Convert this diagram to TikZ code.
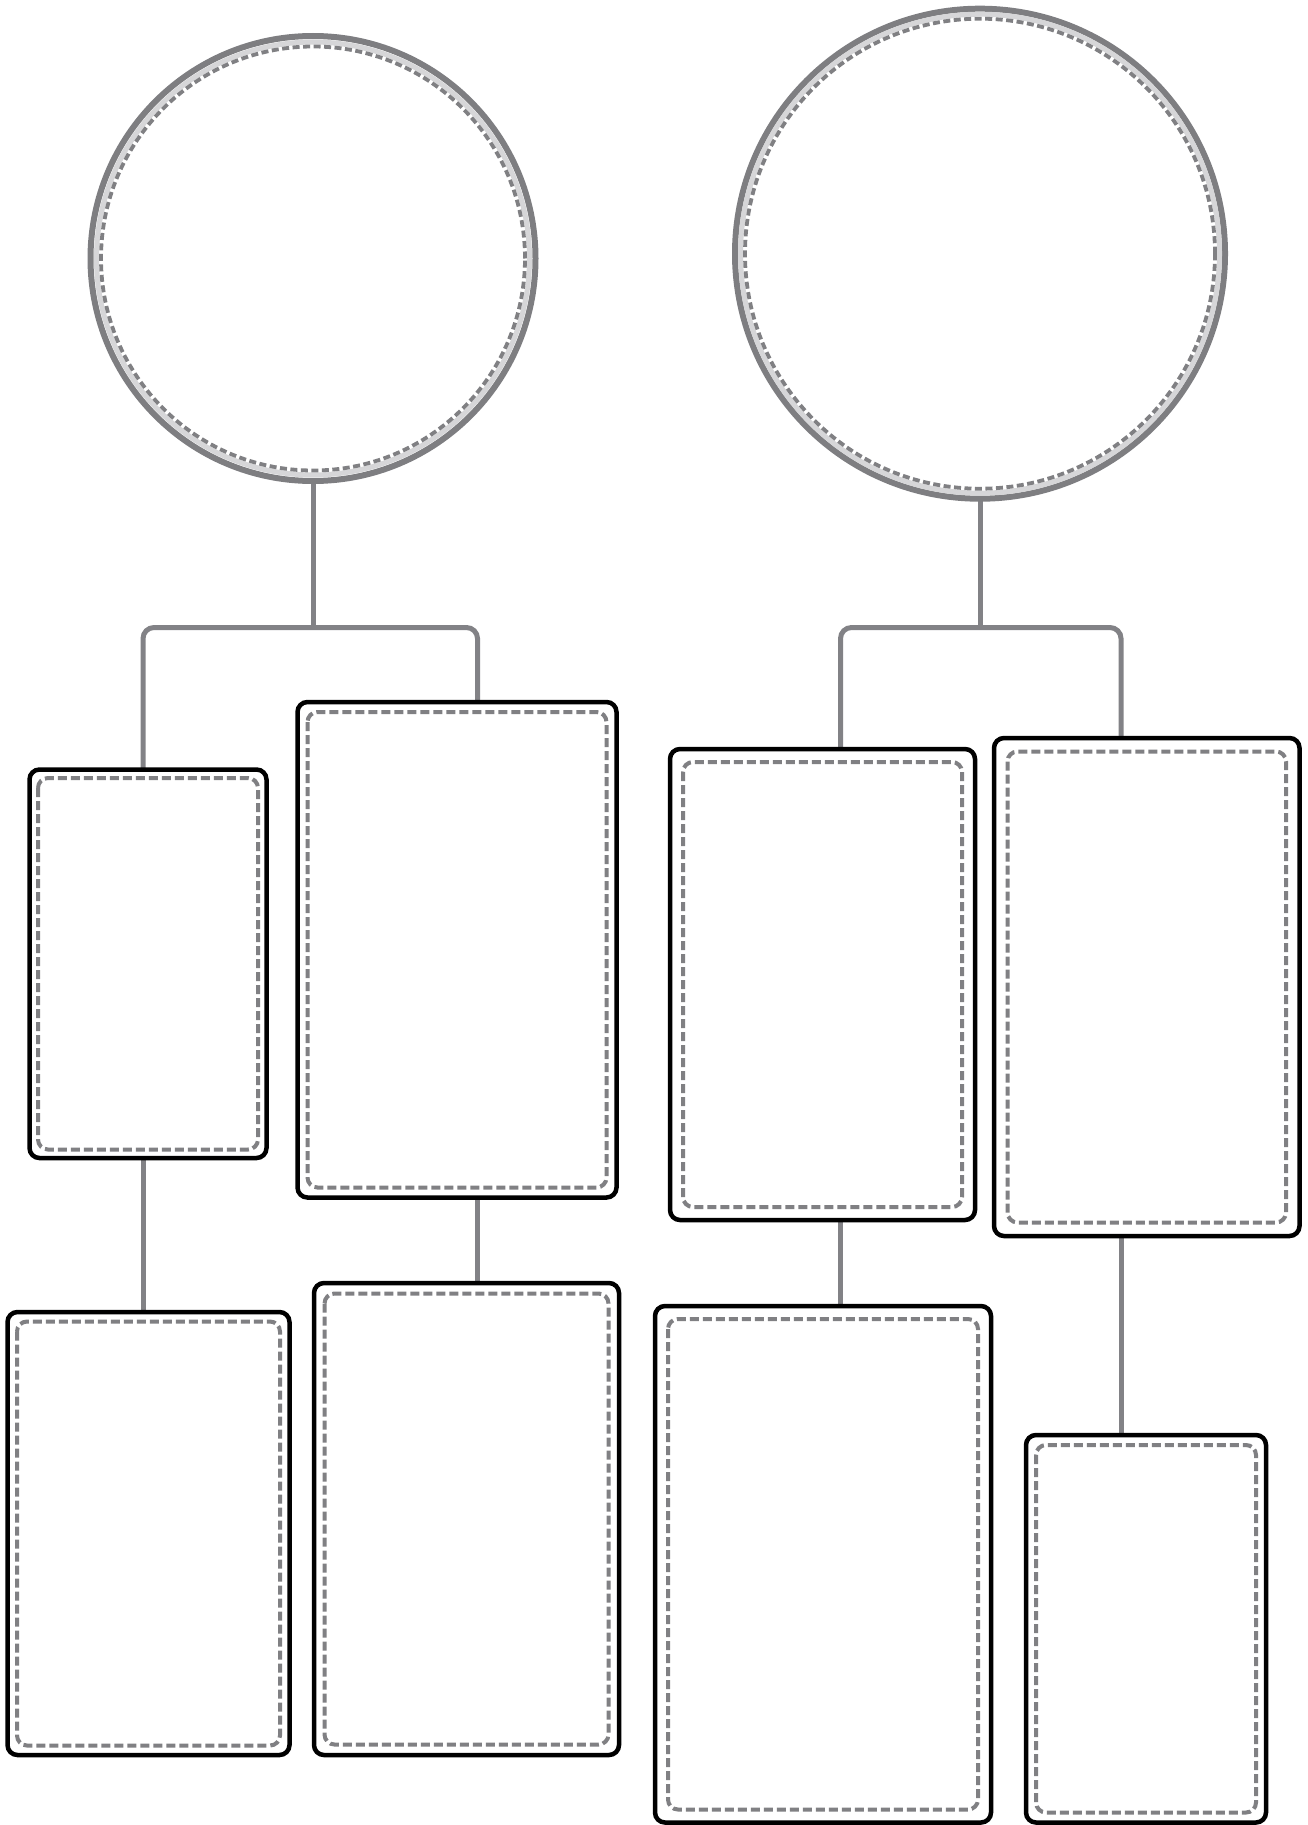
\documentclass[tikz,border=0pt]{standalone}
\usetikzlibrary{calc,backgrounds}
\definecolor{ringdark}{RGB}{126,126,129}
\definecolor{ringlight}{RGB}{214,214,216}
\definecolor{dashgray}{RGB}{128,128,131}
\definecolor{conngray}{RGB}{130,130,134}
\tikzset{
  conn/.style={draw=conngray, line width=5pt},
  boxnode/.style={draw=black, line width=4.5pt, rounded corners=10pt, fill=white, inner sep=0pt, outer sep=0pt},
  dashbox/.style={draw=dashgray, line width=4pt, rounded corners=10pt, dash pattern=on 9pt off 4pt},
  ringnode/.style={circle, draw=ringdark, line width=6pt, fill=white, inner sep=0pt, outer sep=0pt},
  ringband/.style={draw=ringlight, line width=5pt},
  ringdash/.style={draw=dashgray, line width=3.8pt, dash pattern=on 7pt off 3.5pt}
}
\newcommand{\innerdash}[2]{%
  \draw[dashbox] ($(#1.north west)+(#2,#2)$) rectangle ($(#1.south east)+(-#2,-#2)$);}
\begin{document}
\begin{tikzpicture}[x=1pt, y=-1pt]
\useasboundingbox (0,0) rectangle (1308,1825);
% coordinates
\coordinate (xLL) at (143,0);
\coordinate (xLR) at (477.5,0);
\coordinate (xRL) at (840.5,0);
\coordinate (xRR) at (1121,0);
\coordinate (brL) at (313,627.5);
\coordinate (brR) at (980,627.5);
% circles
\node[ringnode, minimum size=445pt] (c1) at (313,258.5) {};
\node[ringnode, minimum size=490pt] (c2) at (980,253.7) {};
\draw[ringband] (c1.center) circle (216.5pt);
\draw[ringdash] (c1.center) circle (212pt);
\draw[ringband] (c2.center) circle (239.5pt);
\draw[ringdash] (c2.center) circle (235pt);
% boxes
\node[boxnode, minimum width=237pt, minimum height=388.5pt] (b1) at (148,963.75) {};
\node[boxnode, minimum width=319pt, minimum height=495.5pt] (b2) at (457,949.75) {};
\node[boxnode, minimum width=282pt, minimum height=443pt] (b3) at (148.5,1533.5) {};
\node[boxnode, minimum width=305pt, minimum height=472pt] (b4) at (466.5,1519) {};
\node[boxnode, minimum width=305pt, minimum height=471pt] (b5) at (822.5,984.5) {};
\node[boxnode, minimum width=305.5pt, minimum height=498pt] (b6) at (1146.75,987) {};
\node[boxnode, minimum width=336pt, minimum height=516.5pt] (b7) at (823,1564.25) {};
\node[boxnode, minimum width=240pt, minimum height=387.5pt] (b8) at (1146,1628.75) {};
\innerdash{b1}{8.5}
\innerdash{b2}{10}
\innerdash{b3}{9.5}
\innerdash{b4}{10.5}
\innerdash{b5}{13}
\innerdash{b6}{13.5}
\innerdash{b7}{13}
\innerdash{b8}{10}
% connectors (behind boxes and circles)
\begin{scope}[on background layer]
  \draw[conn] (c1.center) -- (brL);
  \draw[conn, rounded corners=11pt] (xLL |- b1.center) |- (brL) -| (xLR |- b2.center);
  \draw[conn] (c2.center) -- (brR);
  \draw[conn, rounded corners=11pt] (xRL |- b5.center) |- (brR) -| (xRR |- b6.center);
  \draw[conn] (xLL |- b1.center) -- (xLL |- b3.center);
  \draw[conn] (xLR |- b2.center) -- (xLR |- b4.center);
  \draw[conn] (xRL |- b5.center) -- (xRL |- b7.center);
  \draw[conn] (xRR |- b6.center) -- (xRR |- b8.center);
\end{scope}
\end{tikzpicture}
\end{document}
